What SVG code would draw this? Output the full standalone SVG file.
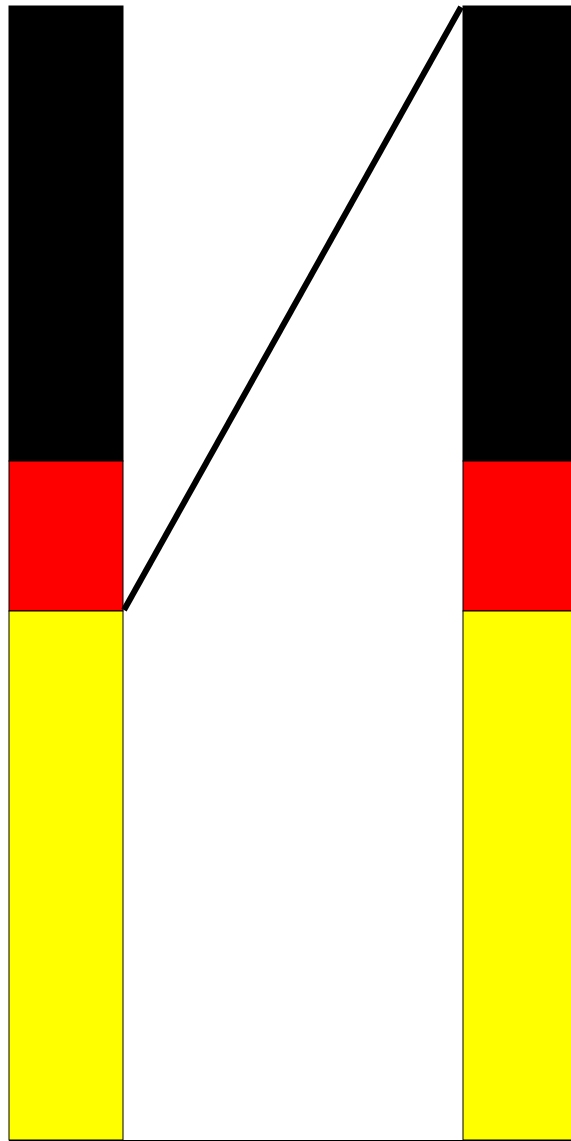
<svg xmlns="http://www.w3.org/2000/svg" width="571" height="1141" viewBox="0 0 571 1141">
<style>
.seg{stroke:#000;stroke-width:1}
.k{fill:#000}.r{fill:#f00}.y{fill:#ff0}
.conn{stroke:#000;stroke-width:6;fill:none}
</style>
<rect width="571" height="1141" fill="#fff"/>
<g id="bar-left">
<rect class="seg k" x="9" y="6" width="114" height="455"/>
<rect class="seg r" x="9" y="461" width="114" height="150"/>
<rect class="seg y" x="9" y="611" width="114" height="529"/>
</g>
<g id="bar-right">
<rect class="seg k" x="463" y="6" width="114" height="455"/>
<rect class="seg r" x="463" y="461" width="114" height="150"/>
<rect class="seg y" x="463" y="611" width="114" height="529"/>
</g>
<g id="connectors">
<line class="conn" x1="461" y1="7" x2="124" y2="610"/>
<line stroke="#000" stroke-width="1" x1="9" y1="1140.5" x2="571" y2="1140.5"/>
</g>
</svg>
